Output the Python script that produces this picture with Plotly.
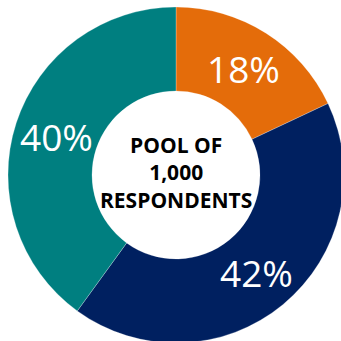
import math
import plotly.graph_objects as go

# Survey split across three respondent groups
groups = ["Group A", "Group B", "Group C"]
shares = [18, 42, 40]
colors = ["#E46C0A", "#002060", "#007F80"]
center_lines = ["POOL OF", "1,000", "RESPONDENTS"]

W, H = 352, 350
cx, cy, r = 176, 175, 168
hole = 0.5

fig = go.Figure(
    go.Pie(
        labels=groups,
        values=shares,
        sort=False,
        direction="clockwise",
        rotation=0,
        hole=hole,
        marker=dict(colors=colors, line=dict(color="rgba(255,255,255,0.5)", width=0.5)),
        textinfo="none",
        domain=dict(
            x=[(cx - r) / W, (cx + r) / W],
            y=[(H - cy - r) / H, (H - cy + r) / H],
        ),
        showlegend=False,
        hoverinfo="skip",
    )
)

# Percentage labels placed at the middle of each ring segment
total = sum(shares)
ring_mid = r * (1 + hole) / 2
acc = 0
for v in shares:
    ang = 2 * math.pi * (acc + v / 2) / total  # clockwise from 12 o'clock
    acc += v
    px = cx + ring_mid * math.sin(ang)
    py = cy - ring_mid * math.cos(ang)
    fig.add_annotation(
        x=px / W, y=1 - py / H, xref="paper", yref="paper",
        xanchor="center", yanchor="middle",
        text=f"{v}%", showarrow=False,
        font=dict(family="Open Sans", size=37, color="white"),
    )

fig.add_annotation(
    x=cx / W, y=1 - cy / H, xref="paper", yref="paper",
    xanchor="center", yanchor="middle",
    text="<br>".join(center_lines),
    showarrow=False, yshift=3,
    font=dict(family="Open Sans", size=21, color="black", weight="bold"),
    align="center",
)

fig.update_layout(
    width=W, height=H, autosize=False,
    margin=dict(l=0, r=0, t=0, b=0),
    paper_bgcolor="white", plot_bgcolor="white",
)

fig.write_html(
    "out.html",
    post_script="document.body.style.margin='0';document.body.style.overflow='hidden';"
                "document.documentElement.style.overflow='hidden';",
)
